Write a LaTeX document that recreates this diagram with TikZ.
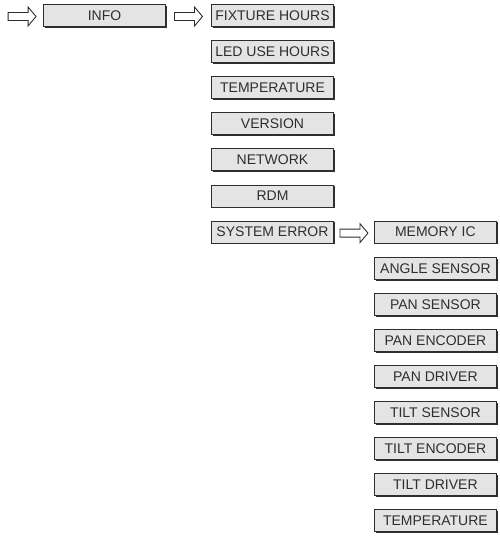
\documentclass[tikz,border=0pt]{standalone}
\usepackage{fontspec}
\setmainfont{Liberation Sans}
\usepackage{tikz}
\usetikzlibrary{positioning,calc,shadows}
\definecolor{boxfill}{HTML}{E4E4E4}
\definecolor{ink}{HTML}{2E2E2E}

\begin{document}
\begin{tikzpicture}[
  menubox/.style={draw=ink, line width=0.9pt, fill=boxfill, text=ink, minimum width=122pt, minimum height=22pt,
    inner sep=1pt, font=\fontsize{14}{16}\selectfont,
    drop shadow={shadow xshift=1.3pt, shadow yshift=-1.3pt, fill=ink, opacity=1}},
  pics/blockarrow/.style={code={
    \draw[ink, line width=0.9pt, fill=white] (-14pt,4pt) -- (6pt,4pt) -- (6pt,9.5pt) -- (14pt,0pt)
      -- (6pt,-9.5pt) -- (6pt,-4pt) -- (-14pt,-4pt) -- cycle;}}]
\useasboundingbox (0,0) rectangle (499pt,-541pt);
% main level
\node[menubox] (info) at (104.5pt,-15.5pt) {INFO};
\coordinate (startarr) at ($(info.west)+(-21pt,-1pt)$);
\pic (start) at (startarr) {blockarrow};
% info submenu
\node[menubox] (fixture) at (272.5pt,-15.5pt) {FIXTURE HOURS};
\node[menubox, below=13.2pt of fixture] (ledhours) {LED USE HOURS};
\node[menubox, below=13.2pt of ledhours] (temp) {TEMPERATURE};
\node[menubox, below=13.2pt of temp] (version) {VERSION};
\node[menubox, below=13.2pt of version] (network) {NETWORK};
\node[menubox, below=13.2pt of network] (rdm) {RDM};
\node[menubox, below=13.2pt of rdm] (syserr) {SYSTEM ERROR};
% system error submenu
\node[menubox, right=40pt of syserr] (memic) {MEMORY IC};
\node[menubox, below=13.2pt of memic] (angle) {ANGLE SENSOR};
\node[menubox, below=13.2pt of angle] (pansens) {PAN SENSOR};
\node[menubox, below=13.2pt of pansens] (panenc) {PAN ENCODER};
\node[menubox, below=13.2pt of panenc] (pandrv) {PAN DRIVER};
\node[menubox, below=13.2pt of pandrv] (tiltsens) {TILT SENSOR};
\node[menubox, below=13.2pt of tiltsens] (tiltenc) {TILT ENCODER};
\node[menubox, below=13.2pt of tiltenc] (tiltdrv) {TILT DRIVER};
\node[menubox, below=13.2pt of tiltdrv] (errtemp) {TEMPERATURE};
% arrows between levels
\foreach \a/\b/\n in {info/fixture/arrinfo, syserr/memic/arrerr}
  \pic (\n) at ($(\a.east)!0.5!(\b.west)+(0,-1pt)$) {blockarrow};
\end{tikzpicture}
\end{document}
